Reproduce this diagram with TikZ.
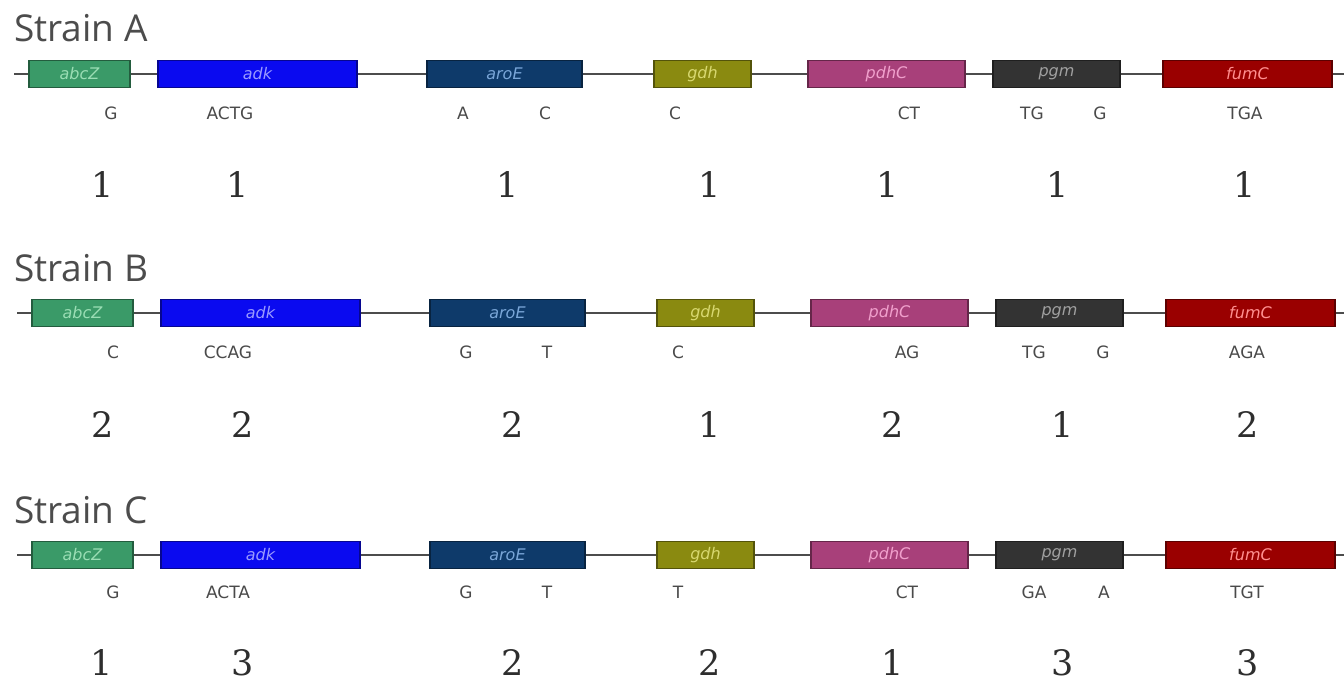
\documentclass[tikz,border=0pt]{standalone}
\usepackage{fontspec}
\setmainfont{Open Sans}
\newfontfamily\numfont{DejaVu Serif}
\newfontfamily\lblfont{DejaVu Sans}
\definecolor{cabcZ}{HTML}{3A9A68}\definecolor{tabcZ}{HTML}{9ADDB4}
\definecolor{cadk}{HTML}{0A0AF0}\definecolor{tadk}{HTML}{9A9AFF}
\definecolor{caroE}{HTML}{0E3A6A}\definecolor{taroE}{HTML}{7AA6D8}
\definecolor{cgdh}{HTML}{8A8A10}\definecolor{tgdh}{HTML}{D8D870}
\definecolor{cpdhC}{HTML}{A8407A}\definecolor{tpdhC}{HTML}{F0A0CC}
\definecolor{cpgm}{HTML}{333333}\definecolor{tpgm}{HTML}{A0A0A0}
\definecolor{cfumC}{HTML}{9A0000}\definecolor{tfumC}{HTML}{FF9090}
\definecolor{lettergray}{HTML}{4A4A4A}
\definecolor{numgray}{HTML}{2E2E2E}
\newcommand\generow[3]{%
  \coordinate (#1-l) at (#3+14,#2);
  \coordinate (#1-r) at (1344,#2);
  \draw[backbone] (#1-l) -- (#1-r);
  \foreach \g/\cx/\w in {abcZ/79.5/101, adk/257.5/199, aroE/504.5/155, gdh/702.5/97, pdhC/886.5/157, pgm/1056.5/127, fumC/1247.5/169}{
    \node[gene=\g, minimum width=\w] (#1-\g) at (\cx+#3,#2) {\g};
  }%
}
\begin{document}
\begin{tikzpicture}[x=1pt,y=-1pt,
  backbone/.style={draw=black!70, line width=1.3pt},
  gene/.style={draw=c#1!60!black, fill=c#1, text=t#1, line width=1.5pt,
     minimum height=27, inner sep=0pt,
     font=\lblfont\fontsize{16}{16}\selectfont\itshape},
  strain/.style={anchor=west, text=black!70, font=\fontsize{37}{37}\selectfont, inner sep=0pt},
  allele/.style={text=lettergray, inner sep=0pt, font=\lblfont\fontsize{17}{17}\selectfont},
  num/.style={text=numgray, inner sep=0pt, font=\numfont\fontsize{35}{35}\selectfont}]
\useasboundingbox (0,0) rectangle (1344,684);
\fill[white] (0,0) rectangle (1344,684);

% Strain A
\node[strain] (sA) at (14,28) {Strain A};
\generow{A}{74}{0}
\foreach \t/\x [count=\i] in {G/111, ACTG/230, A/463, C/545, C/675, CT/909, TG/1032, G/1100, TGA/1245}
  \node[allele] (A-a\i) at (\x,113) {\t};
\foreach \t/\x [count=\i] in {1/103, 1/238, 1/508, 1/710, 1/888, 1/1058, 1/1245}
  \node[num] (A-n\i) at (\x,185) {\t};

% Strain B
\node[strain] (sB) at (14,268) {Strain B};
\generow{B}{313}{3}
\foreach \t/\x [count=\i] in {C/113, CCAG/228, G/466, T/547, C/678, AG/907, TG/1034, G/1103, AGA/1247}
  \node[allele] (B-a\i) at (\x,352) {\t};
\foreach \t/\x [count=\i] in {2/103, 2/243, 2/513, 1/710, 2/893, 1/1063, 2/1248}
  \node[num] (B-n\i) at (\x,425) {\t};

% Strain C
\node[strain] (sC) at (14,510) {Strain C};
\generow{C}{555}{3}
\foreach \t/\x [count=\i] in {G/113, ACTA/228, G/466, T/547, T/678, CT/907, GA/1034, A/1104, TGT/1247}
  \node[allele] (C-a\i) at (\x,592) {\t};
\foreach \t/\x [count=\i] in {1/102, 3/243, 2/513, 2/710, 1/893, 3/1063, 3/1248}
  \node[num] (C-n\i) at (\x,663) {\t};
\end{tikzpicture}
\end{document}
